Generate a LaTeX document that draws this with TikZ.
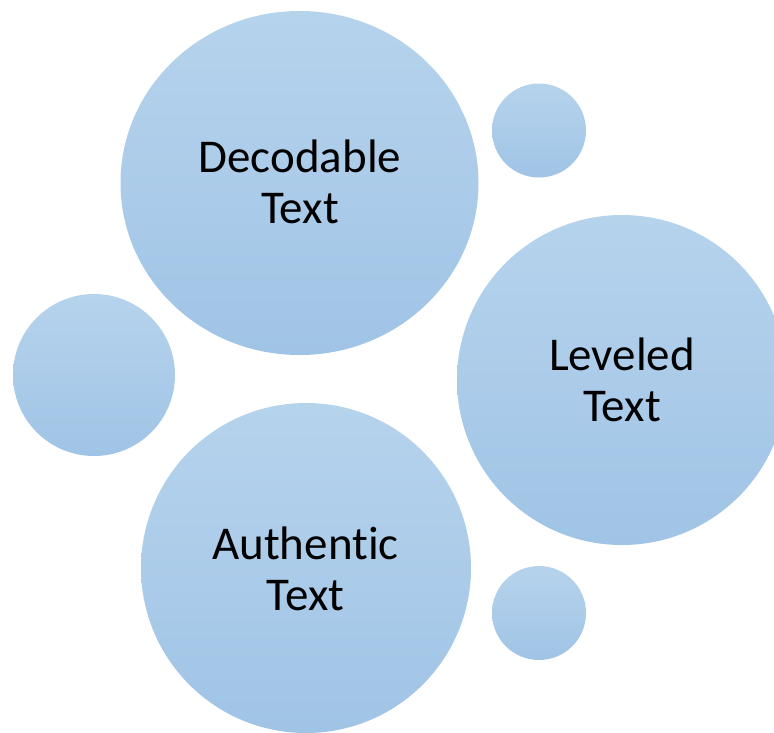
\documentclass[tikz,border=0pt]{standalone}
\usepackage{fontspec}
\setmainfont{Carlito}[Ligatures={NoCommon}]
\definecolor{bubtop}{RGB}{182,211,236}
\definecolor{bubbot}{RGB}{160,196,230}
\begin{document}
\begin{tikzpicture}[x=1pt,y=-1pt,
  bubble/.style={top color=bubtop,bottom color=bubbot,draw=none},
  lbl/.style={align=center,inner sep=0pt,font=\fontsize{47}{51}\selectfont,text=black}]
\useasboundingbox (0,0) rectangle (774,732);
\clip (0,0) rectangle (774,732);
\shade[bubble] (299.5,183) ellipse [x radius=179,y radius=172];
\shade[bubble] (539,130.5) circle [radius=47];
\shade[bubble] (622,380) circle [radius=165];
\shade[bubble] (94,375) circle [radius=81];
\shade[bubble] (306,568) circle [radius=165];
\shade[bubble] (539,613) circle [radius=47];
\node[lbl] (dec) at (300,182) {Decodable\\Text};
\node[lbl] (lev) at (622,380) {Leveled\\Text};
\node[lbl] (aut) at (305.5,568.5) {Authentic\\Text};
\end{tikzpicture}
\end{document}
